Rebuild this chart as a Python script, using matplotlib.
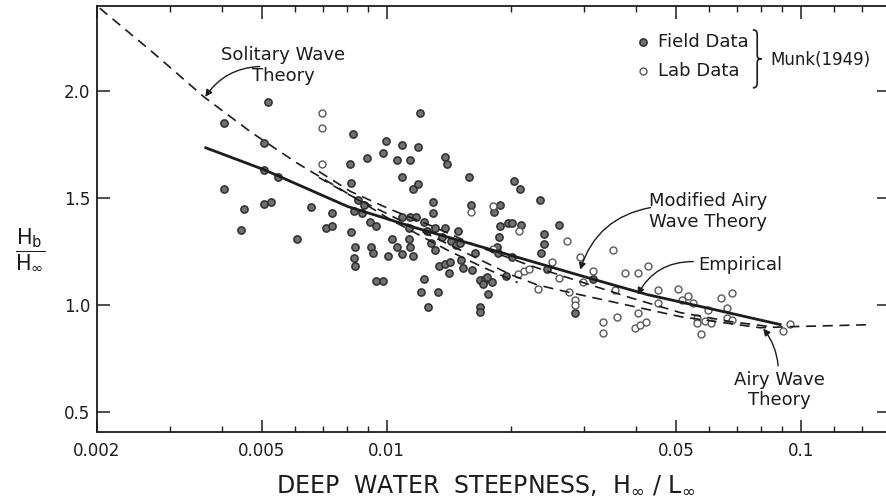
import matplotlib.pyplot as plt
from matplotlib.path import Path
from matplotlib.patches import PathPatch
from matplotlib.ticker import NullFormatter

# Munk (1949) field data, H0/L0 and Hb/H0
field_s = [0.00517, 0.00405, 0.00505, 0.00505, 0.00546, 0.00405, 0.00452, 0.00505, 0.00525, 0.00445,
           0.00656, 0.00737, 0.00607, 0.00713, 0.00737, 0.00819, 0.00828, 0.00814, 0.00819, 0.00895,
           0.00978, 0.00995, 0.0109, 0.0119, 0.0120, 0.0106, 0.0114, 0.0109, 0.0116, 0.0119,
           0.00851, 0.0088, 0.00833, 0.0087, 0.0091, 0.0094, 0.0109, 0.0114, 0.0118, 0.0129,
           0.0129, 0.0123, 0.0113, 0.0125, 0.0131, 0.0138, 0.0138, 0.0140, 0.0158, 0.0160,
           0.00837, 0.00833, 0.00837, 0.00915, 0.00925, 0.0103, 0.0106, 0.0101, 0.0109, 0.0113,
           0.0114, 0.0116, 0.0128, 0.0131, 0.0136, 0.0143, 0.0147, 0.0150, 0.0149, 0.0163,
           0.0134, 0.0138, 0.0142, 0.0141, 0.0151, 0.0153, 0.0161, 0.0094, 0.00978, 0.0123,
           0.0121, 0.0133, 0.0126, 0.0168, 0.0168, 0.0203, 0.0210, 0.0188, 0.0235, 0.0188,
           0.0196, 0.0201, 0.0211, 0.0187, 0.0239, 0.0239, 0.0236, 0.0261, 0.0185, 0.0186,
           0.0201, 0.0194, 0.0243, 0.0168, 0.0173, 0.0171, 0.0179, 0.0175, 0.0176, 0.0315,
           0.0284, 0.0181]
field_v = [1.95, 1.85, 1.76, 1.63, 1.60, 1.545, 1.45, 1.475, 1.48, 1.35,
           1.46, 1.43, 1.31, 1.36, 1.37, 1.34, 1.80, 1.66, 1.57, 1.69,
           1.71, 1.77, 1.75, 1.74, 1.90, 1.68, 1.68, 1.60, 1.545, 1.565,
           1.49, 1.466, 1.44, 1.43, 1.39, 1.37, 1.41, 1.41, 1.41, 1.48,
           1.43, 1.39, 1.36, 1.345, 1.36, 1.36, 1.695, 1.66, 1.60, 1.466,
           1.27, 1.22, 1.18, 1.27, 1.245, 1.31, 1.27, 1.23, 1.24, 1.31,
           1.27, 1.23, 1.29, 1.255, 1.32, 1.30, 1.28, 1.29, 1.345, 1.245,
           1.18, 1.19, 1.20, 1.15, 1.21, 1.175, 1.165, 1.11, 1.11, 1.12,
           1.06, 1.06, 0.99, 0.99, 0.965, 1.58, 1.545, 1.47, 1.49, 1.37,
           1.386, 1.386, 1.376, 1.32, 1.33, 1.283, 1.245, 1.372, 1.273, 1.245,
           1.226, 1.137, 1.17, 1.119, 1.123, 1.10, 1.105, 1.133, 1.053, 1.12,
           0.964, 1.433]

# Munk (1949) laboratory data
lab_s = [0.00697, 0.00697, 0.00697, 0.0160, 0.0180, 0.0209, 0.0273, 0.0352, 0.0180, 0.0207,
         0.0214, 0.0220, 0.0251, 0.0261, 0.0232, 0.0293, 0.0315, 0.0297, 0.0275, 0.0285,
         0.0285, 0.0355, 0.0375, 0.0405, 0.0428, 0.0332, 0.0332, 0.0360, 0.0403, 0.0398,
         0.0409, 0.0423, 0.0452, 0.0452, 0.0505, 0.0517, 0.0534, 0.0549, 0.0597, 0.0562,
         0.0562, 0.0587, 0.0607, 0.0574, 0.0642, 0.0682, 0.0663, 0.0663, 0.0682, 0.0905,
         0.0941]
lab_v = [1.90, 1.83, 1.66, 1.433, 1.461, 1.344, 1.301, 1.255, 1.264, 1.147,
         1.161, 1.17, 1.203, 1.128, 1.076, 1.226, 1.161, 1.105, 1.062, 1.025,
         1.001, 1.072, 1.151, 1.151, 1.184, 0.922, 0.870, 0.945, 0.964, 0.894,
         0.908, 0.922, 1.072, 1.011, 1.076, 1.025, 1.044, 1.011, 0.978, 0.940,
         0.917, 0.926, 0.917, 0.865, 1.034, 1.058, 0.987, 0.940, 0.931, 0.880,
         0.912]

# curves
sol_s = [0.00203, 0.0027, 0.00362, 0.0047, 0.00607, 0.00762, 0.0102, 0.0140, 0.0170, 0.0207]
sol_v = [2.39, 2.19, 1.975, 1.81, 1.665, 1.55, 1.40, 1.257, 1.178, 1.105]

emp_s = [0.00366, 0.00505, 0.00805, 0.0118, 0.01685, 0.0305, 0.0426, 0.0621, 0.089]
emp_v = [1.736, 1.634, 1.461, 1.36, 1.273, 1.128, 1.048, 0.977, 0.908]

mod_s = [0.00686, 0.00819, 0.01022, 0.01276, 0.01685, 0.0222, 0.0293, 0.0387, 0.0511, 0.0675, 0.0842]
mod_v = [1.625, 1.531, 1.447, 1.372, 1.269, 1.184, 1.109, 1.034, 0.964, 0.922, 0.898]

airy_s = [0.00686, 0.00819, 0.01022, 0.01276, 0.01638, 0.0199, 0.0230, 0.0257, 0.0315, 0.0511,
          0.0797, 0.0941, 0.145]
airy_v = [1.597, 1.512, 1.419, 1.325, 1.222, 1.142, 1.095, 1.072, 1.034, 0.945,
          0.893, 0.898, 0.907]

x_major = [0.002, 0.005, 0.01, 0.05, 0.1]
x_major_labels = ['0.002', '0.005', '0.01', '0.05', '0.1']
x_minor = [0.003, 0.004, 0.006, 0.007, 0.008, 0.009, 0.02, 0.03, 0.04,
           0.06, 0.07, 0.08, 0.09, 0.12, 0.14]
y_major = [0.5, 1.0, 1.5, 2.0]

ink = '#1c1c1c'
plt.rcParams['font.family'] = 'DejaVu Sans'
plt.rcParams['text.color'] = ink

fig = plt.figure(figsize=(8.86, 5.04), dpi=100)
ax = fig.add_axes([0.1095, 0.143, 0.894, 0.845])
ax.set_xscale('log')
ax.set_xlim(0.002, 0.163)
ax.set_ylim(0.405, 2.40)

# data points
ax.plot(field_s, field_v, 'o', ls='none', ms=5.2, mfc='#707070', mec='#2e2e2e', mew=1.1)
ax.plot(lab_s, lab_v, 'o', ls='none', ms=5.0, mfc='white', mec='#5a5a5a', mew=1.0)

# theory curves
dash = (0, (6, 4))
ax.plot(sol_s, sol_v, color=ink, lw=1.2, ls=dash)
ax.plot(mod_s, mod_v, color=ink, lw=1.2, ls=dash)
ax.plot(airy_s, airy_v, color=ink, lw=1.2, ls=dash)
ax.plot(emp_s, emp_v, color=ink, lw=2.0)

# axes styling
for side in ['left', 'bottom', 'top', 'right']:
    ax.spines[side].set_linewidth(1.3)
    ax.spines[side].set_color(ink)
ax.set_xticks(x_major)
ax.set_xticklabels(x_major_labels)
ax.set_xticks(x_minor, minor=True)
ax.xaxis.set_minor_formatter(NullFormatter())
ax.set_yticks(y_major)
ax.set_yticklabels(['%.1f' % y for y in y_major])
ax.tick_params(which='major', direction='in', length=9, width=1.1, colors=ink,
               labelsize=12, top=True, right=True)
ax.tick_params(which='minor', direction='in', length=4, width=1.0, colors=ink,
               top=True, right=False)
ax.tick_params(axis='x', which='major', pad=7)
ax.tick_params(axis='y', which='major', pad=5)

fig.text(486 / 886, 1 - 485 / 504, r'DEEP  WATER  STEEPNESS,  $\mathregular{H_\infty}$ / $\mathregular{L_\infty}$',
         ha='center', va='center', fontsize=17)
fig.text(30 / 886, 1 - 249 / 504, r'$\dfrac{\mathregular{H_b}}{\mathregular{H_\infty}}$',
         ha='center', va='center', fontsize=15)

# annotations
arrow = dict(arrowstyle='-|>', color=ink, lw=1.0, mutation_scale=10, shrinkA=0, shrinkB=0)
ax.text(0.00562, 2.12, 'Solitary Wave\nTheory', ha='center', va='center', fontsize=13, linespacing=1.2)
ax.annotate('', xy=(0.00365, 1.975), xytext=(0.00494, 2.117),
            arrowprops=dict(arrow, connectionstyle='arc3,rad=0.25'))

ax.text(0.0597, 1.437, 'Modified Airy\nWave Theory', ha='center', va='center', fontsize=13, linespacing=1.2)
ax.annotate('', xy=(0.0293, 1.165), xytext=(0.0433, 1.456),
            arrowprops=dict(arrow, connectionstyle='arc3,rad=0.3'))

ax.text(0.0713, 1.189, 'Empirical', ha='center', va='center', fontsize=13)
ax.annotate('', xy=(0.0403, 1.048), xytext=(0.0549, 1.203),
            arrowprops=dict(arrow, connectionstyle='arc3,rad=0.3'))

ax.text(0.0887, 0.601, 'Airy Wave\nTheory', ha='center', va='center', fontsize=13, linespacing=1.2)
ax.annotate('', xy=(0.081, 0.889), xytext=(0.088, 0.715),
            arrowprops=dict(arrow, connectionstyle='arc3,rad=0.15'))

# legend
ax.plot([0.0416], [2.23], 'o', ms=5.2, mfc='#707070', mec='#2e2e2e', mew=1.1)
ax.plot([0.0416], [2.094], 'o', ms=5.0, mfc='white', mec='#5a5a5a', mew=1.0)
ax.text(0.0452, 2.23, 'Field Data', ha='left', va='center', fontsize=13)
ax.text(0.0452, 2.094, 'Lab Data', ha='left', va='center', fontsize=13)
ax.text(0.0842, 2.145, 'Munk(1949)', ha='left', va='center', fontsize=12)

# curly brace grouping the legend entries (axes fraction)
x0, w = 0.828, 0.011
yt, yb = 0.944, 0.808
ym = (yt + yb) / 2
H = yt - yb
xm = x0 + w * 0.5
verts = [(x0, yt),
         (xm, yt), (xm, yt - 0.05 * H), (xm, yt - 0.12 * H),
         (xm, ym + 0.1 * H),
         (xm, ym + 0.03 * H), (xm, ym), (x0 + w, ym),
         (xm, ym), (xm, ym - 0.03 * H), (xm, ym - 0.1 * H),
         (xm, yb + 0.12 * H),
         (xm, yb + 0.05 * H), (xm, yb), (x0, yb)]
codes = [Path.MOVETO,
         Path.CURVE4, Path.CURVE4, Path.CURVE4,
         Path.LINETO,
         Path.CURVE4, Path.CURVE4, Path.CURVE4,
         Path.CURVE4, Path.CURVE4, Path.CURVE4,
         Path.LINETO,
         Path.CURVE4, Path.CURVE4, Path.CURVE4]
ax.add_patch(PathPatch(Path(verts, codes), transform=ax.transAxes, fill=False,
                       ec=ink, lw=1.2, clip_on=False))

fig.savefig('out.png', dpi=100, facecolor='white')
